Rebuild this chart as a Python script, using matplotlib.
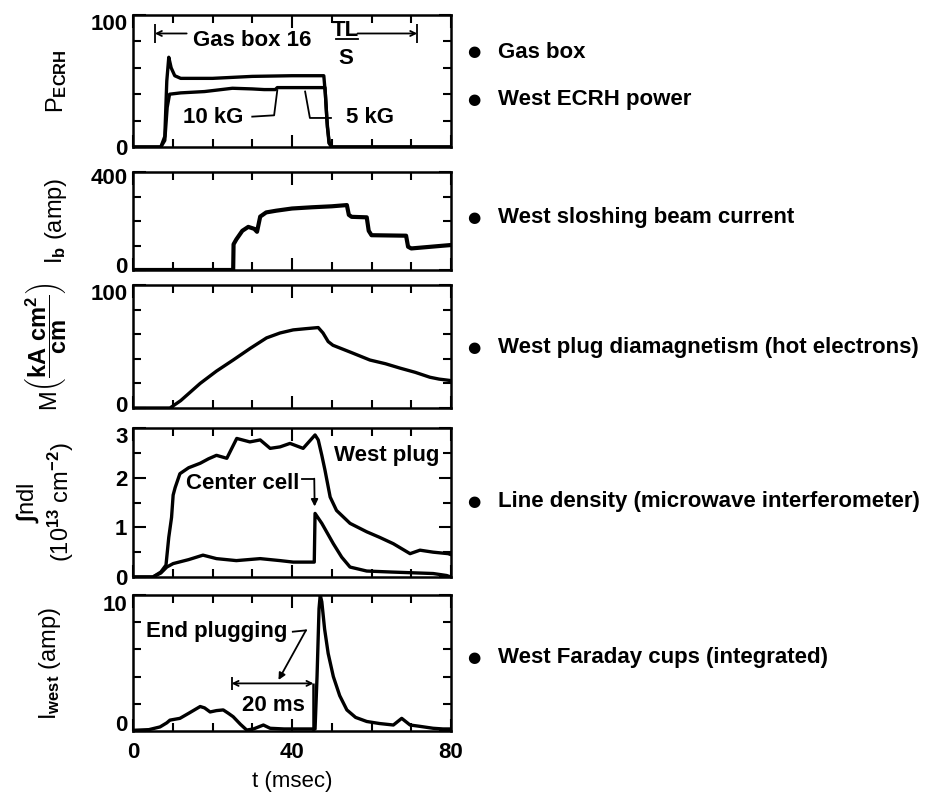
import numpy as np
import matplotlib
matplotlib.use("Agg")
import matplotlib.pyplot as plt
import matplotlib.transforms as mtransforms
from matplotlib.ticker import MultipleLocator, FixedLocator

plt.rcParams['font.family'] = ['Liberation Sans', 'DejaVu Sans']
plt.rcParams['font.weight'] = 'bold'
plt.rcParams['mathtext.fontset'] = 'custom'
plt.rcParams['mathtext.rm'] = 'Liberation Sans:bold'
plt.rcParams['mathtext.it'] = 'Liberation Sans:bold'
plt.rcParams['mathtext.bf'] = 'Liberation Sans:bold'

# ECRH power (two field settings)
t_ecrh_upper = [0, 7, 8, 8.5, 9, 9.6, 10.5, 12, 20, 30, 40, 48, 48.4, 48.9, 49.4, 50, 80]
p_ecrh_upper = [0, 0, 8, 50, 68, 60, 54, 52, 52, 53.5, 54, 54, 40, 15, 3, 0, 0]
t_ecrh_lower = [0, 7, 8, 8.6, 9.2, 12, 18, 25, 30, 33, 35.8, 36.3, 40, 46, 48.3, 48.8, 49.3, 50, 80]
p_ecrh_lower = [0, 0, 5, 30, 40, 41, 42, 44.5, 44, 43.5, 43.5, 45, 45, 45, 45, 20, 3, 0, 0]

# west sloshing beam current
t_ib = [0, 25.2, 25.3, 26, 27.5, 29, 30.5, 31.2, 32, 33.5, 36, 40, 45, 50, 53.8,
        54.3, 55, 58.8, 59.3, 60, 68.7, 69.2, 70, 80]
ib = [0, 0, 105, 125, 160, 176, 168, 156, 218, 235, 242, 251, 256, 260, 265,
      225, 217, 215, 160, 142, 140, 95, 88, 102]

# west plug diamagnetism
t_m = [0, 9.3, 12, 16.9, 21, 25.2, 29.5, 33.6, 37, 40.3, 43.5, 46.6, 47.8, 49.1,
       50.3, 55, 59.6, 63.5, 67.2, 71, 74.7, 77, 79.7]
m = [0, 0, 6, 20, 30, 39, 48.5, 57, 61, 63.5, 64.5, 65.4, 61, 54,
     51, 45, 39, 36, 32.4, 29, 25, 23.5, 22.4]

# line density, west plug and center cell
t_wp = [0, 5, 7, 8.3, 9.0, 9.7, 10.1, 10.6, 11.8, 14, 16.9, 19, 21, 23.6, 26.1, 29.4,
        32, 34.5, 37, 39.5, 42.8, 45.8, 46.6, 47.5, 48.3, 49.6, 51.2, 54.6, 58.8,
        62, 65.5, 69.7, 72.2, 75.5, 79.3, 80]
nl_wp = [0, 0, 0.1, 0.24, 0.8, 1.2, 1.65, 1.8, 2.08, 2.2, 2.29, 2.38, 2.45, 2.39, 2.79, 2.72,
         2.76, 2.59, 2.62, 2.69, 2.59, 2.86, 2.76, 2.45, 2.15, 1.61, 1.34, 1.08, 0.91,
         0.8, 0.67, 0.47, 0.54, 0.50, 0.47, 0.45]
t_cc = [0, 5, 7, 8.5, 10.1, 14, 17.6, 21, 26, 32, 37, 40.3, 45.6, 45.8, 47.5,
        50.4, 52.5, 54.6, 58.8, 65, 75.5, 78.9, 80]
nl_cc = [0, 0, 0.08, 0.2, 0.27, 0.35, 0.44, 0.37, 0.33, 0.37, 0.33, 0.30, 0.30, 1.28, 1.08,
         0.67, 0.4, 0.2, 0.12, 0.1, 0.07, 0.03, 0]

# west Faraday cups
t_fc = [0, 4, 6.8, 8.5, 9.3, 11.8, 14, 16.9, 18, 19.4, 21, 22.7, 24, 25.2, 27, 28.6,
        30.3, 32.8, 34.5, 38, 42, 45.8, 46.3, 46.8, 47.1, 47.5, 48.2, 49.1, 50.4, 52,
        53.8, 56, 58.8, 62, 65.5, 67.6, 69.7, 72, 75.5, 78, 80]
i_fc = [0.05, 0.1, 0.3, 0.6, 0.8, 0.93, 1.3, 1.8, 1.7, 1.4, 1.5, 1.55, 1.3, 1.05, 0.5, 0.07,
        0.15, 0.44, 0.2, 0.15, 0.15, 0.15, 4, 9, 10, 9.5, 7.5, 5.7, 4, 2.6,
        1.55, 1.0, 0.7, 0.55, 0.44, 0.93, 0.44, 0.35, 0.2, 0.15, 0.15]

ylims = [100, 400, 100, 3, 10]
y_minor = [20, 100, 20, 0.5, 2]
y_major = [[0, 100], [0, 400], [0, 100], [0, 1, 2, 3], [0, 10]]
ylabels = [r"P$_{\mathrm{ECRH}}$",
           r"I$_\mathrm{b}$ (amp)",
           r"M$\left(\dfrac{\mathrm{kA\ cm^2}}{\mathrm{cm}}\right)$",
           "$\\int$ndl\n(10$^{13}$ cm$^{-2}$)",
           r"I$_{\mathrm{west}}$ (amp)"]
ylabel_x = [-0.2, -0.2, -0.2, -0.18, -0.22]
# small vertical nudges (points) of the end tick labels, as in the original
top_shift = [-5, -3, -5, -5, -6]
bot_shift = [0, 3.5, 3, 0, 6]
side_labels = ["Gas box", "West ECRH power", "West sloshing beam current",
               "West plug diamagnetism (hot electrons)",
               "Line density (microwave interferometer)",
               "West Faraday cups (integrated)"]
side_label_y = [52, 100, 218, 347, 502, 657]   # pixel rows

FS = 16
W, H = 946, 794
fig = plt.figure(figsize=(W / 100, H / 100), dpi=100)
boxes = [(15, 147), (172, 270), (285, 408), (428, 577), (595, 731)]
x0, x1 = 133, 451
axes = []
for top, bot in boxes:
    axes.append(fig.add_axes([x0 / W, 1 - bot / H, (x1 - x0) / W, (bot - top) / H]))

lw = 2.4
for i, ax in enumerate(axes):
    ax.set_xlim(0, 80)
    ax.set_ylim(0, ylims[i])
    ax.xaxis.set_major_locator(FixedLocator([0, 40, 80]))
    ax.xaxis.set_minor_locator(MultipleLocator(10))
    ax.yaxis.set_major_locator(FixedLocator(y_major[i]))
    ax.yaxis.set_minor_locator(MultipleLocator(y_minor[i]))
    ax.tick_params(which='both', direction='in', top=True, right=True, width=1.5,
                   labelsize=FS, pad=4)
    ax.tick_params(axis='x', pad=8)
    ax.tick_params(which='major', length=9)
    ax.tick_params(which='minor', length=6)
    for s in ax.spines.values():
        s.set_linewidth(1.8)
    if i < 4:
        ax.tick_params(labelbottom=False)
    ax.set_ylabel(ylabels[i], fontsize=FS + 1)
    ax.yaxis.set_label_coords(ylabel_x[i], 0.5)
    labs = ax.get_yticklabels()
    for lab, dy in ((labs[-1], top_shift[i]), (labs[0], bot_shift[i])):
        lab.set_transform(lab.get_transform() +
                          mtransforms.ScaledTranslation(0, dy / 72, fig.dpi_scale_trans))

axes[0].plot(t_ecrh_upper, p_ecrh_upper, color='black', lw=lw)
axes[0].plot(t_ecrh_lower, p_ecrh_lower, color='black', lw=lw)
axes[1].plot(t_ib, ib, color='black', lw=lw + 0.6)
axes[2].plot(t_m, m, color='black', lw=lw)
axes[3].plot(t_wp, nl_wp, color='black', lw=lw)
axes[3].plot(t_cc, nl_cc, color='black', lw=lw)
axes[4].plot(t_fc, i_fc, color='black', lw=lw)

axes[4].set_xlabel("t (msec)", fontsize=FS, labelpad=6)

thin = dict(color='black', lw=1.3)
arr = dict(arrowstyle='->', color='black', lw=1.3, shrinkA=0, shrinkB=0, mutation_scale=9)

# panel 1 annotations
ax = axes[0]
ax.annotate('', xy=(5.5, 86), xytext=(13.5, 86), arrowprops=arr)
ax.annotate('', xy=(71.5, 86), xytext=(56.5, 86), arrowprops=arr)
ax.vlines([5.5, 71.5], 79, 93, **thin)
ax.text(30, 81, "Gas box 16", ha='center', va='center', fontsize=FS)
ax.text(53.5, 88.5, "TL", ha='center', va='center', fontsize=FS)
ax.plot([51, 56.5], [81.5, 81.5], **thin)
ax.text(53.5, 67, "S", ha='center', va='center', fontsize=FS)
ax.text(20.2, 22, "10 kG", ha='center', va='center', fontsize=FS)
ax.plot([30, 35.5, 36.3], [23, 24, 43], **thin)
ax.text(59.5, 22, "5 kG", ha='center', va='center', fontsize=FS)
ax.plot([49.8, 44.5, 43.3], [22, 22, 42], **thin)

# panel 4 annotations
ax = axes[3]
ax.text(63.7, 2.45, "West plug", ha='center', va='center', fontsize=FS)
ax.text(27.5, 1.89, "Center cell", ha='center', va='center', fontsize=FS)
ax.plot([42.6, 45.6], [1.98, 1.98], **thin)
ax.annotate('', xy=(45.7, 1.42), xytext=(45.6, 1.98),
            arrowprops=dict(arrowstyle='-|>', color='black', lw=1.3, shrinkA=0, shrinkB=0,
                            mutation_scale=10))

# panel 5 annotations
ax = axes[4]
ax.text(21, 7.3, "End plugging", ha='center', va='center', fontsize=FS)
ax.plot([40.2, 43.5], [7.3, 7.4], **thin)
ax.annotate('', xy=(36.6, 3.75), xytext=(43.5, 7.4),
            arrowprops=dict(arrowstyle='-|>', color='black', lw=1.3, shrinkA=0, shrinkB=0,
                            mutation_scale=10))
ax.annotate('', xy=(24.8, 3.5), xytext=(45.4, 3.5),
            arrowprops=dict(arrowstyle='<->', color='black', lw=1.3, shrinkA=0, shrinkB=0,
                            mutation_scale=9))
ax.vlines(24.8, 3.0, 4.0, **thin)
ax.vlines(45.4, 0, 3.5, color='black', lw=1.8)
ax.text(35.3, 1.9, "20 ms", ha='center', va='center', fontsize=FS)

# side descriptions
for lab, yp in zip(side_labels, side_label_y):
    fig.text(474 / W, 1 - yp / H, "\u25CF", ha='center', va='center', fontsize=11,
             family='DejaVu Sans')
    fig.text(498 / W, 1 - yp / H, lab, ha='left', va='center', fontsize=FS)

fig.savefig("out.png", dpi=100)
